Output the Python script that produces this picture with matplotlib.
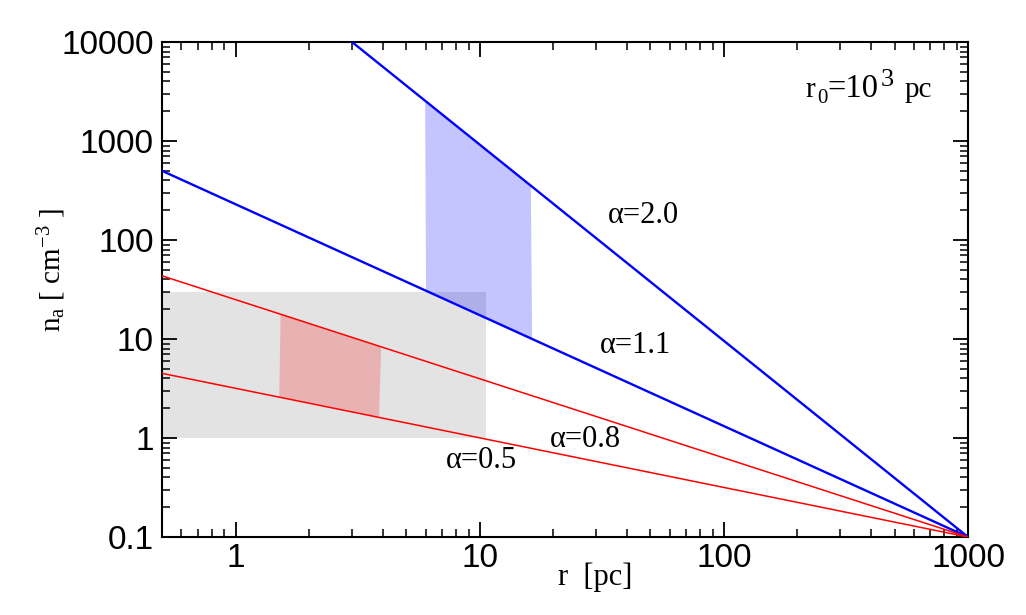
import numpy as np
import matplotlib
matplotlib.use("Agg")
import matplotlib.pyplot as plt
from matplotlib.ticker import LogLocator, FixedLocator, FixedFormatter, NullFormatter

plt.rcParams['mathtext.fontset'] = 'custom'
plt.rcParams['mathtext.rm'] = 'Liberation Serif'
plt.rcParams['mathtext.it'] = 'Liberation Serif:italic'

# ---- data ----
alpha_labels = ["α=2.0", "α=1.1", "α=0.8", "α=0.5"]
line_colors = ["#0000ff", "#0000ff", "#ff0000", "#ff0000"]
# endpoints (r, n) of each power-law line
line_r_start = [3.0, 0.5, 0.5, 0.5]
line_n_start = [10000.0, 500.0, 43.5, 4.5]
line_r_end = [1000.0, 1000.0, 1000.0, 1000.0]
line_n_end = [0.1, 0.1, 0.1, 0.1]

# label anchor (left, baseline)
label_r = [33.4, 31.2, 19.3, 7.29]
label_n = [147.5, 7.17, 0.805, 0.494]

gray_r = [0.5, 10.6]
gray_n = [1.0, 30.0]

# shaded bands: x-edges along the upper and lower line
red_band_upper_r = [1.53, 3.95]
red_band_lower_r = [1.51, 3.87]
blue_band_upper_r = [5.98, 16.2]
blue_band_lower_r = [6.03, 16.4]

xticks = [1, 10, 100, 1000]
xticklabels = ["1", "10", "100", "1000"]
yticks = [0.1, 1, 10, 100, 1000, 10000]
yticklabels = ["0.1", "1", "10", "100", "1000", "10000"]

r0_pos = (216, 2782)


def line_val(i, r):
    lr = np.log10([line_r_start[i], line_r_end[i]])
    ln = np.log10([line_n_start[i], line_n_end[i]])
    return 10 ** np.interp(np.log10(r), lr, ln)


fig = plt.figure(figsize=(10.26, 6.15), dpi=100)
ax = fig.add_axes([0.1579, 0.1268, 0.7856, 0.8049])
ax.set_xscale('log')
ax.set_yscale('log')
ax.set_xlim(0.5, 1000)
ax.set_ylim(0.1, 10000)

# gray box
ax.fill([gray_r[0], gray_r[1], gray_r[1], gray_r[0]],
        [gray_n[0], gray_n[0], gray_n[1], gray_n[1]],
        color='#e3e3e3', lw=0, zorder=1)

# red band between alpha=0.8 and alpha=0.5
rx = [red_band_upper_r[0], red_band_upper_r[1], red_band_lower_r[1], red_band_lower_r[0]]
ry = [line_val(2, red_band_upper_r[0]), line_val(2, red_band_upper_r[1]),
      line_val(3, red_band_lower_r[1]), line_val(3, red_band_lower_r[0])]
ax.fill(rx, ry, color='#ff0000', alpha=0.21, lw=0, zorder=2)

# blue band between alpha=2.0 and alpha=1.1
bx = [blue_band_upper_r[0], blue_band_upper_r[1], blue_band_lower_r[1], blue_band_lower_r[0]]
by = [line_val(0, blue_band_upper_r[0]), line_val(0, blue_band_upper_r[1]),
      line_val(1, blue_band_lower_r[1]), line_val(1, blue_band_lower_r[0])]
ax.fill(bx, by, color='#0000ff', alpha=0.23, lw=0, zorder=2)

for i in range(4):
    lw = 1.7 if line_colors[i] == "#0000ff" else 1.1
    ax.plot([line_r_start[i], line_r_end[i]], [line_n_start[i], line_n_end[i]],
            color=line_colors[i], lw=lw, zorder=3, clip_on=True)
    ax.text(label_r[i], label_n[i], alpha_labels[i], family='Liberation Serif',
            fontsize=22, ha='left', va='baseline', zorder=4)

# r0 = 10^3 pc annotation, built from pieces (offsets in points)
pieces = [("r", 0, 0, 21), ("0", 8.6, -4.3, 15), ("=10", 15.8, 0, 23.5),
          ("3", 54.0, 8.0, 19), ("pc", 71, 0, 21)]
for txt, dx, dy, fs in pieces:
    ax.annotate(txt, xy=r0_pos, xycoords='data', xytext=(dx, dy),
                textcoords='offset points', ha='left', va='baseline',
                family='Liberation Serif', fontsize=fs)

# ticks
ax.xaxis.set_major_locator(FixedLocator(xticks))
ax.xaxis.set_major_formatter(FixedFormatter(xticklabels))
ax.yaxis.set_major_locator(FixedLocator(yticks))
ax.yaxis.set_major_formatter(FixedFormatter(yticklabels))
ax.xaxis.set_minor_locator(LogLocator(base=10, subs=np.arange(2, 10), numticks=20))
ax.yaxis.set_minor_locator(LogLocator(base=10, subs=np.arange(2, 10), numticks=20))
ax.xaxis.set_minor_formatter(NullFormatter())
ax.yaxis.set_minor_formatter(NullFormatter())
ax.tick_params(which='both', direction='in', top=True, right=True)
ax.tick_params(which='major', length=11, width=1.3)
ax.tick_params(which='minor', length=5.5, width=1.1)
ax.tick_params(axis='x', which='major', pad=4.5)
ax.tick_params(axis='y', which='major', pad=6)
for lab in ax.get_xticklabels() + ax.get_yticklabels():
    lab.set_family('Liberation Sans')
    lab.set_fontsize(24)
for sp in ax.spines.values():
    sp.set_linewidth(1.5)

ax.set_xlabel("r  [pc]", family='Liberation Serif', fontsize=22)
ax.xaxis.set_label_coords(0.537, -0.052)
ax.set_ylabel(r"n$_{\mathrm{a}}$ [ cm$^{\mathrm{-3}}$ ]", family='Liberation Serif',
              fontsize=21)
ax.yaxis.set_label_coords(-0.117, 0.539)

fig.savefig("out.png", dpi=100)
